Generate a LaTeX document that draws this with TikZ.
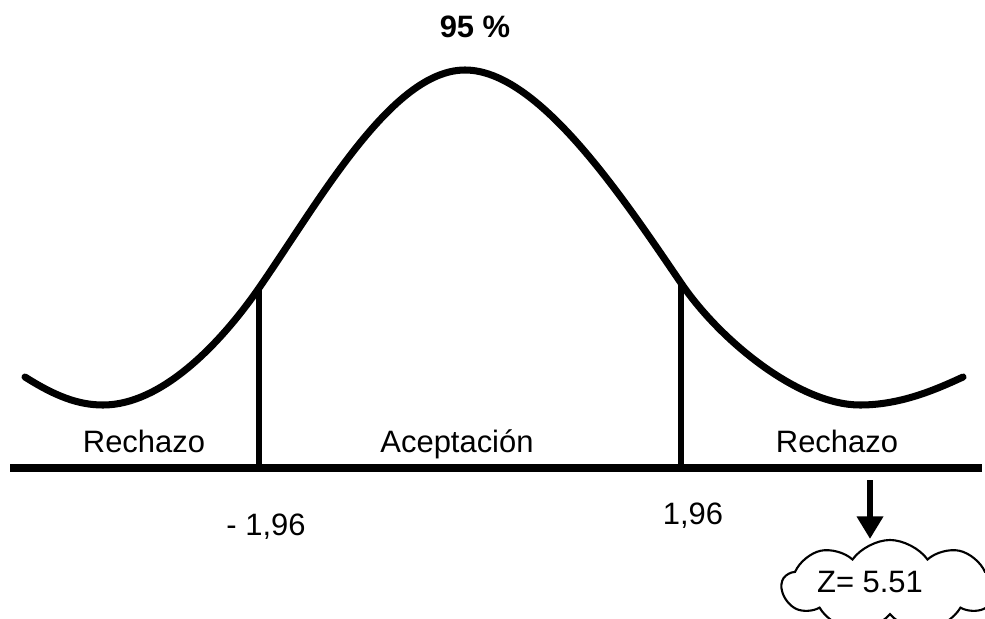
\documentclass[tikz,border=0pt]{standalone}
\usepackage{fontspec}
\setmainfont{Liberation Sans}
\usepackage{tikz}
\usetikzlibrary{arrows.meta, shapes.symbols}
\tikzstyle{curve} = [line width=5pt, line cap=round]
\tikzstyle{axis} = [line width=5.6pt]
\tikzstyle{limit} = [line width=3.6pt]
\tikzstyle{label} = [inner sep=0pt, anchor=base, font=\fontsize{22}{26}\selectfont]
\tikzstyle{arrow} = [line width=4.2pt, -{Triangle[length=16pt, width=18pt]}]

\begin{document}
\begin{tikzpicture}[x=0.025cm, y=-0.025cm]
\useasboundingbox (0,0) rectangle (985,618);

\coordinate (lend) at (25,377);
\coordinate (lmin) at (103,405);
\coordinate (linf) at (259,288);
\coordinate (peak) at (465,70);
\coordinate (rinf) at (681,283);
\coordinate (rmin) at (860,405);
\coordinate (rend) at (963,377);

\coordinate (ax1) at (10,468);
\coordinate (ax2) at (982,468);
\coordinate (lfoot) at (259,466);
\coordinate (rfoot) at (681,466);

\draw [curve] (lend) .. controls (55,396) and (78,405) .. (lmin)
  .. controls (160,405) and (218,347) .. (linf)
  .. controls (320,200) and (392,70) .. (peak)
  .. controls (538,70) and (621,195) .. (rinf)
  .. controls (721,342) and (800,405) .. (rmin)
  .. controls (900,405) and (935,390) .. (rend);

\draw [axis] (ax1) -- (ax2);
\draw [limit] (linf) -- (lfoot);
\draw [limit] (rinf) -- (rfoot);

\node [label, font=\fontsize{22}{26}\selectfont\bfseries] (pct) at (475,37) {95 \%};
\node [label] (rechl) at (144,452) {Rechazo};
\node [label] (acep) at (457,452) {Aceptación};
\node [label] (rechr) at (837,452) {Rechazo};
\node [label] (zl) at (266,535) {- 1,96};
\node [label] (zr) at (693,524) {1,96};

\node [cloud, draw, line width=1.5pt, cloud puffs=9, cloud puff arc=110, aspect=2.4,
  minimum width=5.4cm, minimum height=2.3cm] (zcloud) at (890,586) {};
\node [label] (zval) at (870,592) {Z= 5.51};
\coordinate (atop) at (870,480);
\draw [arrow] (atop) -- (atop |- zcloud.north);
\end{tikzpicture}
\end{document}
